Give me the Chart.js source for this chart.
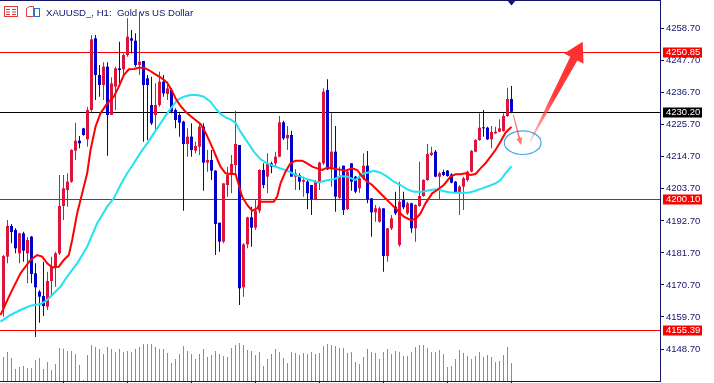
<!DOCTYPE html>
<html>
<head>
<meta charset="utf-8">
<script src="https://cdn.jsdelivr.net/npm/chart.js@4.4.0/dist/chart.umd.min.js"></script>
<style>
  html, body { margin: 0; padding: 0; background: #fff; }
  canvas { display: block; }
</style>
</head>
<body>
<canvas id="goldChart" width="714" height="383"></canvas>
<script>
// XAUUSD H1 candles (oldest -> newest)
const opens = [4162.68,4180.42,4190.95,4189.58,4181.56,4188.43,4181.56,4187.29,4174.69,4168.40,
  4166.91,4163.25,4172.06,4176.98,4181.56,4197.82,4203.31,4206.17,4216.82,4220.25,
  4224.49,4220.71,4230.78,4255.40,4242.80,4239.37,4245.67,4229.07,4238.80,4245.09,
  4244.75,4249.67,4255.40,4254.59,4246.24,4247.61,4241.66,4232.50,4229.07,4232.50,
  4240.51,4236.28,4237.65,4230.78,4229.07,4226.78,4219.11,4221.63,4216.82,4218.19,
  4225.06,4212.70,4213.61,4209.95,4192.09,4185.57,4205.03,4208.46,4211.90,4218.77,
  4169.89,4184.65,4193.93,4190.38,4196.21,4210.18,4207.89,4212.47,4212.47,4214.76,
  4226.55,4221.05,4222.20,4207.89,4208.46,4206.17,4206.17,4205.03,4200.22,4206.17,
  4212.47,4237.65,4210.41,4216.48,4200.68,4211.67,4196.79,4212.47,4207.89,4203.88,
  4207.32,4211.67,4200.45,4195.64,4192.44,4197.02,4180.65,4190.15,4197.59,4184.43,
  4199.88,4195.30,4198.73,4190.15,4197.82,4201.25,4206.75,4215.33,4216.48,4207.89,
  4209.49,4209.95,4208.69,4206.17,4202.40,4204.46,4206.75,4209.61,4216.48,4220.48,
  4224.72,4224.72,4220.71,4222.77,4223.34,4223.57,4228.72,4234.56];
const highs = [4180.99,4193.01,4191.64,4190.15,4188.66,4189.00,4187.06,4187.52,4178.13,4168.97,
  4178.70,4175.27,4180.42,4182.14,4208.46,4208.46,4209.04,4217.28,4226.44,4221.86,
  4224.72,4231.93,4256.54,4256.54,4246.24,4247.15,4247.15,4242.00,4245.67,4254.25,
  4250.24,4262.26,4258.26,4257.11,4264.55,4247.61,4242.80,4242.23,4239.94,4243.95,
  4242.80,4240.51,4238.23,4231.36,4229.64,4227.12,4224.49,4226.21,4219.91,4226.21,
  4226.21,4217.05,4217.05,4210.18,4192.09,4205.60,4211.32,4215.33,4230.56,4218.77,
  4185.00,4194.15,4197.59,4199.88,4210.41,4212.47,4215.90,4213.04,4216.48,4228.72,
  4227.12,4225.29,4223.69,4210.41,4209.04,4207.89,4206.75,4205.03,4206.75,4213.04,
  4238.23,4241.32,4229.64,4225.29,4211.32,4211.67,4210.18,4212.47,4208.12,4209.04,
  4215.90,4216.71,4200.45,4198.16,4197.59,4197.02,4190.15,4194.73,4202.74,4206.17,
  4202.74,4199.31,4198.96,4198.39,4213.04,4206.98,4219.11,4218.19,4217.05,4209.61,
  4210.29,4210.18,4209.04,4206.40,4205.03,4207.89,4209.95,4217.05,4220.71,4229.64,
  4230.78,4225.06,4225.29,4225.06,4227.58,4229.64,4238.45,4239.03];
const lows = [4159.81,4178.13,4185.00,4181.56,4178.13,4178.70,4171.26,4171.26,4152.83,4157.75,
  4160.04,4162.10,4167.25,4170.12,4180.99,4193.01,4197.59,4205.83,4213.61,4217.62,
  4221.97,4218.19,4230.21,4234.22,4235.36,4234.22,4215.10,4229.07,4230.78,4239.94,
  4242.80,4249.10,4250.24,4245.67,4242.80,4219.91,4220.48,4225.63,4223.92,4231.93,
  4235.36,4234.22,4229.64,4224.49,4221.63,4196.21,4214.76,4214.76,4215.90,4215.33,
  4203.08,4209.61,4206.75,4180.99,4182.14,4185.00,4201.02,4202.17,4209.04,4163.82,
  4166.68,4183.28,4183.85,4189.58,4195.30,4203.88,4202.17,4209.04,4211.32,4214.53,
  4220.48,4217.05,4207.89,4203.31,4203.31,4201.02,4196.67,4194.73,4200.11,4203.31,
  4211.90,4210.18,4204.46,4195.87,4200.22,4194.73,4196.44,4203.08,4202.17,4202.40,
  4206.75,4198.73,4187.29,4192.44,4192.09,4175.27,4178.70,4189.58,4194.73,4183.85,
  4196.67,4194.73,4188.66,4185.57,4197.59,4201.02,4206.52,4214.99,4207.66,4199.88,
  4208.12,4207.89,4205.60,4202.17,4194.73,4196.44,4206.17,4209.38,4216.25,4220.25,
  4221.63,4220.48,4217.62,4222.54,4223.12,4223.34,4228.50,4229.64];
const closes = [4180.65,4190.95,4188.89,4183.28,4188.43,4182.48,4186.14,4174.47,4169.89,4166.68,
  4163.48,4172.06,4176.98,4181.56,4197.82,4203.88,4206.17,4217.05,4220.25,4219.34,
  4222.20,4230.78,4255.05,4242.80,4239.37,4245.67,4229.07,4239.94,4245.09,4244.52,
  4249.67,4255.97,4254.59,4246.24,4247.38,4239.37,4239.37,4226.21,4232.50,4240.51,
  4236.51,4238.23,4230.21,4227.35,4226.44,4219.11,4221.63,4217.05,4218.42,4225.06,
  4212.70,4213.61,4209.95,4191.64,4185.57,4205.60,4208.46,4212.24,4219.11,4169.54,
  4184.65,4193.93,4190.38,4196.21,4210.18,4205.03,4212.47,4211.32,4214.76,4226.55,
  4221.05,4222.20,4207.89,4209.04,4206.17,4206.75,4202.17,4200.22,4206.17,4212.70,
  4237.08,4210.41,4216.48,4201.02,4207.89,4196.44,4209.61,4206.17,4202.74,4207.32,
  4211.67,4200.11,4195.64,4197.02,4197.02,4180.65,4190.15,4193.58,4195.30,4199.31,
  4197.36,4198.73,4190.15,4198.16,4201.25,4206.75,4215.67,4216.13,4207.89,4209.04,
  4208.46,4208.12,4205.83,4202.40,4204.46,4207.32,4209.61,4216.71,4220.48,4224.72,
  4224.49,4220.71,4223.23,4223.34,4224.49,4228.72,4234.56,4230.20];
const volumes = [2880,3480,2760,1440,1680,1800,1560,1560,2520,2760,
  1440,2280,1320,2040,3960,3880,3600,3600,3240,1920,
  120,3120,4320,4080,3840,3240,4080,3840,3480,3840,
  3480,3600,3480,3840,4080,4440,4440,4440,4080,3840,
  3840,3360,2160,2640,3240,4200,3600,3240,2640,3240,
  3840,2880,3120,3600,3240,3000,2880,3960,4320,4560,
  4320,3720,3600,3120,3480,1800,2640,3240,3840,3480,
  2760,2160,3480,3360,3120,3360,3240,3480,3240,3360,
  4200,4440,4320,4200,3960,3960,3360,3480,2280,2040,
  2880,3840,3480,3360,2640,3480,3840,3240,3600,3480,
  3000,3000,3480,4080,4320,4320,3960,3480,3480,3720,
  3240,1680,1800,2640,3720,3360,3000,2640,3000,3480,
  2880,3120,2880,2280,2400,3120,4080,2160];

// moving averages: [bar index, price]
const fastMA = [[-0.75,4160.39],[1.75,4167.83],[4.25,4174.69],[6.75,4179.27],[8.42,4180.99],[9.67,4180.42],
  [10.92,4178.13],[12.17,4176.75],[13.83,4176.98],[15.08,4179.27],[16.33,4180.99],[17.17,4186.14],
  [18.42,4195.30],[19.67,4202.17],[20.92,4209.04],[21.75,4217.05],[23,4225.06],[24.25,4229.64],
  [25.92,4233.07],[27.58,4235.36],[28.83,4238.80],[30.08,4242.80],[31.33,4244.75],[32.58,4244.86],
  [33.83,4245.32],[35.08,4245.32],[36.33,4244.52],[37.58,4243.38],[39.25,4242.00],[40.92,4240.17],
  [42.25,4237.08],[43,4234.79],[44.25,4232.16],[45.5,4230.21],[46.75,4228.72],[48,4227.35],
  [49.25,4225.98],[50.5,4223.00],[51.75,4219.34],[53,4215.33],[54.25,4211.32],[55.5,4209.04],
  [56.75,4208.81],[58,4208.81],[58.83,4205.03],[59.67,4201.02],[60.92,4198.16],[62.17,4196.21],
  [63.42,4197.02],[64.25,4199.31],[65.92,4199.31],[67.58,4199.31],[68.42,4201.02],[69.25,4205.60],
  [70.5,4209.61],[71.75,4212.47],[73,4213.39],[74.67,4213.39],[75.92,4212.47],[77.17,4211.32],
  [78.42,4210.75],[79.67,4210.18],[80.92,4210.98],[82.17,4210.75],[83.42,4210.41],[84.75,4210.18],
  [85.5,4209.95],[87.17,4210.75],[88.42,4210.18],[89.67,4207.89],[90.92,4206.17],[92.17,4205.03],
  [93.42,4203.31],[95.08,4201.02],[96.75,4198.73],[98.42,4196.44],[100.08,4194.15],[101.75,4193.01],
  [103,4193.35],[104.25,4195.30],[105.5,4198.73],[107.17,4202.17],[108.42,4203.31],[110.08,4205.03],
  [111.75,4207.89],[113,4208.69],[114.25,4208.69],[115.5,4209.04],[116.75,4208.46],[118,4208.81],
  [119.25,4210.75],[120.5,4212.47],[121.75,4214.76],[123,4217.05],[124.25,4219.91],[125.5,4223.00],
  [127,4225.00]];
const slowMA = [[-0.75,4158.10],[1.75,4160.39],[4.25,4162.10],[6.75,4163.59],[9.25,4164.16],[10.92,4165.54],
  [12.58,4167.83],[14.25,4170.12],[15.92,4173.55],[18.42,4178.13],[20.92,4183.85],[23.42,4191.87],
  [25.92,4197.59],[27.58,4200.45],[29.25,4205.03],[30.92,4209.04],[32.58,4212.47],[34.25,4216.13],
  [35.92,4219.34],[37.58,4222.77],[39.25,4226.21],[40.92,4229.64],[43.42,4234.22],[45.08,4235.36],
  [46.75,4235.94],[48.42,4235.94],[50.08,4235.36],[51.75,4233.65],[53,4231.36],[54.25,4229.41],
  [55.5,4228.27],[56.75,4227.58],[58,4226.44],[59.25,4223.34],[60.92,4219.91],[62.58,4216.48],
  [64.25,4213.84],[65.92,4212.47],[67.58,4211.55],[69.25,4210.75],[70.92,4209.95],[72.58,4208.81],
  [74.25,4207.89],[75.92,4206.98],[77.58,4206.40],[78.83,4205.83],[80.08,4206.40],[81.33,4206.75],
  [82.58,4206.98],[84.25,4208.12],[85.92,4207.89],[88,4206.75],[89.67,4208.81],[90.92,4209.26],
  [92.58,4209.95],[94.25,4209.26],[95.92,4207.89],[97.58,4206.17],[99.25,4205.03],[100.92,4203.54],
  [102.58,4202.74],[104.67,4202.74],[106.75,4203.31],[108.42,4203.54],[109.67,4203.08],[111.33,4202.51],
  [113,4202.40],[114.67,4202.40],[116.33,4202.40],[118,4203.08],[119.67,4203.88],[121.33,4204.69],
  [123,4205.60],[124.25,4206.75],[125.5,4209.04],[127,4211.55]];

// horizontal levels drawn on the chart
const levelPrices = [4250.85, 4230.20, 4200.10, 4155.39];
const levelColors = ["#ff0000", "#000000", "#ff0000", "#ff0000"];

const priceTicks = [4148.70, 4159.70, 4170.70, 4181.70, 4192.70, 4203.70, 4214.70, 4225.70, 4236.70, 4247.70, 4258.70];
const timeTicks = [15, 31, 47, 63, 79, 95, 111, 127];

// hand drawn marks: [fromIndex, fromPrice, toIndex, toPrice]
const bigArrow = [131.6, 4219.9, 144.8, 4254.2];
const smallArrow = [127.45, 4229.1, 129.4, 4218.8];
// ellipse box: [indexFrom, indexTo, priceLow, priceHigh]
const ellipseBox = [125.2, 134.4, 4215.5, 4223.6];

const titleText = "XAUUSD_, H1:  Gold vs US Dollar";

const navy = "#14146a";
const upColor = "#dc143c";
const downColor = "#0000cd";
const axisFont = "Liberation Sans";

let upBodies = [], downBodies = [], upWicks = [], downWicks = [];
for (let i = 0; i < opens.length; i++) {
  let body = { x: i, y: [opens[i], closes[i]] };
  let wick = { x: i, y: [lows[i], highs[i]] };
  if (closes[i] >= opens[i]) {
    upBodies.push(body);
    upWicks.push(wick);
  } else {
    downBodies.push(body);
    downWicks.push(wick);
  }
}
let volumeBars = volumes.map((v, i) => ({ x: i, y: v }));
let toXY = (arr) => arr.map((p) => ({ x: p[0], y: p[1] }));

function barSet(data, color, width, axis) {
  return {
    type: "bar",
    data: data,
    backgroundColor: color,
    barThickness: width,
    grouped: false,
    inflateAmount: 0,
    borderWidth: 0,
    minBarLength: 1,
    yAxisID: axis || "y",
  };
}

function drawArrow(ctx, x0, y0, x1, y1, tailW, shaftW, headLen, headW, fill) {
  let ang = Math.atan2(y1 - y0, x1 - x0);
  let len = Math.hypot(x1 - x0, y1 - y0);
  ctx.save();
  ctx.translate(x0, y0);
  ctx.rotate(ang);
  ctx.beginPath();
  ctx.moveTo(0, -tailW / 2);
  ctx.lineTo(len - headLen, -shaftW / 2);
  ctx.lineTo(len - headLen, -headW / 2);
  ctx.lineTo(len, 0);
  ctx.lineTo(len - headLen, headW / 2);
  ctx.lineTo(len - headLen, shaftW / 2);
  ctx.lineTo(0, tailW / 2);
  ctx.closePath();
  if (typeof fill === "function") ctx.fillStyle = fill(ctx, len);
  else ctx.fillStyle = fill;
  ctx.fill();
  ctx.restore();
}

const chartDecor = {
  id: "chartDecor",
  beforeDatasetsDraw(chart) {
    let ctx = chart.ctx;
    let a = chart.chartArea;
    let ys = chart.scales.y;
    ctx.save();
    levelPrices.forEach((p, k) => {
      let y = Math.round(ys.getPixelForValue(p)) + 0.5;
      ctx.strokeStyle = levelColors[k];
      ctx.lineWidth = 1;
      ctx.beginPath();
      ctx.moveTo(a.left, y);
      ctx.lineTo(a.right, y);
      ctx.stroke();
    });
    ctx.restore();
  },
  afterDraw(chart) {
    let ctx = chart.ctx;
    let a = chart.chartArea;
    let xs = chart.scales.x;
    let ys = chart.scales.y;
    ctx.save();

    // frame top line and chart shift marker
    ctx.fillStyle = navy;
    ctx.fillRect(a.left, a.top, a.right - a.left + 1, 1);
    let sx = xs.getPixelForValue(opens.length - 1);
    ctx.beginPath();
    ctx.moveTo(sx - 4.5, a.top);
    ctx.lineTo(sx + 4.5, a.top);
    ctx.lineTo(sx, a.top + 5.5);
    ctx.closePath();
    ctx.fill();

    // price tags on the axis
    ctx.font = "9.5px " + axisFont;
    ctx.textBaseline = "middle";
    ctx.textAlign = "left";
    levelPrices.forEach((p, k) => {
      let y = Math.round(ys.getPixelForValue(p));
      ctx.fillStyle = levelColors[k];
      ctx.fillRect(a.right + 3, y - 4.5, 39, 10);
      ctx.fillStyle = "#ffffff";
      ctx.fillText(p.toFixed(2), a.right + 6, y + 0.5);
    });

    // title and the two toolbar icons
    ctx.fillStyle = navy;
    ctx.font = "9.6px " + axisFont;
    ctx.textBaseline = "alphabetic";
    ctx.fillText(titleText, 46, 15.5);
    ctx.strokeStyle = "#e03a3a";
    ctx.lineWidth = 1;
    ctx.strokeRect(4.5, 6.5, 13, 10);
    ctx.beginPath();
    for (let r = 0; r < 3; r++) {
      ctx.moveTo(6, 9.5 + r * 2.5);
      ctx.lineTo(10, 9.5 + r * 2.5);
      ctx.moveTo(12, 9.5 + r * 2.5);
      ctx.lineTo(16, 9.5 + r * 2.5);
    }
    ctx.stroke();
    ctx.beginPath();
    ctx.moveTo(26.5, 16.5);
    ctx.lineTo(26.5, 8.5);
    ctx.lineTo(29.5, 6.5);
    ctx.lineTo(33.5, 6.5);
    ctx.lineTo(33.5, 16.5);
    ctx.closePath();
    ctx.stroke();
    ctx.strokeStyle = "#2a6fd0";
    ctx.strokeRect(34.5, 8.5, 5, 8);

    // ellipse and arrows
    let ex0 = xs.getPixelForValue(ellipseBox[0]);
    let ex1 = xs.getPixelForValue(ellipseBox[1]);
    let ey0 = ys.getPixelForValue(ellipseBox[3]);
    let ey1 = ys.getPixelForValue(ellipseBox[2]);
    ctx.strokeStyle = "#45a6ee";
    ctx.lineWidth = 1.2;
    ctx.beginPath();
    ctx.ellipse((ex0 + ex1) / 2, (ey0 + ey1) / 2, (ex1 - ex0) / 2, (ey1 - ey0) / 2, 0, 0, Math.PI * 2);
    ctx.stroke();

    drawArrow(ctx,
      xs.getPixelForValue(smallArrow[0]), ys.getPixelForValue(smallArrow[1]),
      xs.getPixelForValue(smallArrow[2]), ys.getPixelForValue(smallArrow[3]),
      1, 1.8, 7, 6, "rgba(255,70,70,0.75)");

    drawArrow(ctx,
      xs.getPixelForValue(bigArrow[0]), ys.getPixelForValue(bigArrow[1]),
      xs.getPixelForValue(bigArrow[2]), ys.getPixelForValue(bigArrow[3]),
      1, 8, 19, 22, (c, len) => {
        let g = c.createLinearGradient(0, 0, len, 0);
        g.addColorStop(0, "rgba(255,90,90,0.35)");
        g.addColorStop(0.45, "rgba(255,50,50,0.95)");
        g.addColorStop(1, "rgba(255,45,45,1)");
        return g;
      });

    ctx.restore();
  },
};

Chart.defaults.font.family = axisFont;

let chart_Data = {
  datasets: [
    {
      type: "line",
      label: "MA fast",
      data: toXY(fastMA),
      borderColor: "#ff0000",
      borderWidth: 2,
      pointRadius: 0,
      fill: false,
      tension: 0,
    },
    {
      type: "line",
      label: "MA slow",
      data: toXY(slowMA),
      borderColor: "#22e3ef",
      borderWidth: 2,
      pointRadius: 0,
      fill: false,
      tension: 0,
    },
    barSet(upBodies, upColor, 3),
    barSet(downBodies, downColor, 3),
    barSet(upWicks, upColor, 1),
    barSet(downWicks, downColor, 1),
    barSet(volumeBars, "#32cd32", 1, "vol"),
  ],
};

let options = {
  responsive: false,
  animation: false,
  events: [],
  layout: { padding: 0 },
  plugins: { legend: { display: false }, tooltip: { enabled: false } },
  scales: {
    x: {
      type: "linear",
      position: "bottom",
      offset: false,
      min: -0.875,
      max: 164.125,
      afterBuildTicks: (s) => { s.ticks = timeTicks.map((v) => ({ value: v })); },
      afterFit: (s) => {
        s.height = 2;
        s.paddingLeft = 0;
        s.paddingRight = 0;
      },
      ticks: { display: false },
      grid: { offset: false, drawOnChartArea: false, tickLength: 3, tickColor: navy },
      border: { color: navy },
    },
    y: {
      type: "linear",
      position: "right",
      min: 4137.72,
      max: 4268.56,
      afterBuildTicks: (s) => { s.ticks = priceTicks.map((v) => ({ value: v })); },
      afterFit: (s) => {
        // price axis keeps a fixed width and no label overhang
        s.width = 54;
        s.paddingTop = 0;
        s.paddingBottom = 0;
      },
      ticks: {
        autoSkip: false,
        padding: 2,
        color: navy,
        font: { family: axisFont, size: 9.5 },
        callback: (v) => Number(v).toFixed(2),
      },
      grid: { drawOnChartArea: false, tickLength: 4, tickColor: navy },
      border: { color: navy },
    },
    vol: { display: false, min: 0, max: 45720 },
  },
};

var ctx = document.getElementById("goldChart").getContext("2d");
var myChart = new Chart(ctx, {
  type: "bar",
  data: chart_Data,
  options: options,
  plugins: [chartDecor],
});
</script>
</body>
</html>
